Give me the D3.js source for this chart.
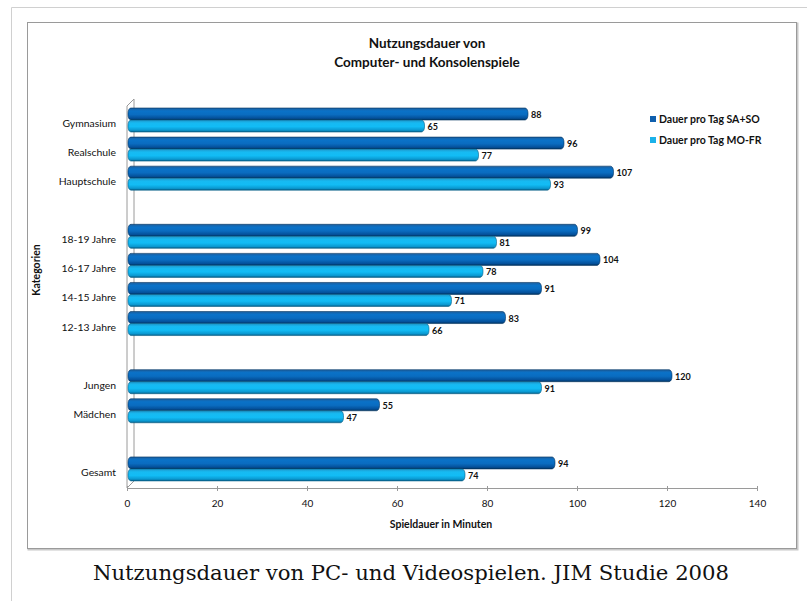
<!DOCTYPE html>
<html>
<head>
<meta charset="utf-8">
<script src="https://cdn.jsdelivr.net/npm/d3@7"></script>
<style>
  body { margin: 0; background: #fff; }
  svg { display: block; }
  text { font-family: Lato, "Open Sans", sans-serif; fill: #111; }
</style>
</head>
<body>
<div id="chart"></div>
<script>
const categories = ['Gymnasium', 'Realschule', 'Hauptschule', '', '18-19 Jahre', '16-17 Jahre',
  '14-15 Jahre', '12-13 Jahre', '', 'Jungen', 'Mädchen', '', 'Gesamt'];
const weekend = [88, 96, 107, null, 99, 104, 91, 83, null, 120, 55, null, 94];
const weekday = [65, 77, 93, null, 81, 78, 71, 66, null, 91, 47, null, 74];
const seriesNames = ['Dauer pro Tag SA+SO', 'Dauer pro Tag MO-FR'];
const xTicks = [0, 20, 40, 60, 80, 100, 120, 140];

const width = 807, height = 601;
const svg = d3.select('#chart').append('svg')
  .attr('width', width).attr('height', height);

const defs = svg.append('defs');
function cylinder(id, stops) {
  const g = defs.append('linearGradient').attr('id', id)
    .attr('x1', 0).attr('y1', 0).attr('x2', 0).attr('y2', 1);
  stops.forEach(s => g.append('stop').attr('offset', s[0]).attr('stop-color', s[1]));
}
cylinder('dark', [[0, '#1d5f9e'], [0.25, '#0a72c8'], [0.55, '#0a6cc0'], [0.85, '#04509a'], [1, '#02335f']]);
cylinder('light', [[0, '#1f95c8'], [0.25, '#17baf2'], [0.55, '#12bcf5'], [0.85, '#0a98d0'], [1, '#065f88']]);

// wiki frame
svg.append('path').attr('d', 'M11.5,601 V7.5 H807')
  .attr('fill', 'none').attr('stroke', '#d0d0d0');
// chart box
svg.append('rect').attr('x', 28.5).attr('y', 23.5).attr('width', 769).attr('height', 526)
  .attr('fill', 'none').attr('stroke', '#c8c8c8').attr('stroke-width', 2);
svg.append('rect').attr('x', 27.5).attr('y', 22.5).attr('width', 769).attr('height', 526)
  .attr('fill', '#fff').attr('stroke', '#9a9a9a');

// title
const title = svg.append('text').attr('text-anchor', 'middle')
  .style('font-size', '13.5px').style('font-weight', 'bold');
title.append('tspan').attr('x', 427).attr('y', 48).text('Nutzungsdauer von');
title.append('tspan').attr('x', 427).attr('y', 67).text('Computer- und Konsolenspiele');

const x = d3.scaleLinear().domain([0, 140]).range([127, 757]);
const y = d3.scaleBand().domain(d3.range(categories.length)).range([105, 483]);
const depth = 7;
const barH = 12;
const shift = 4; // 3D offset of the bar ends

// 3D walls
const wall = svg.append('g').attr('fill', 'none').attr('stroke', '#9a9a9a');
wall.append('path').attr('d',
  `M${x(0)},${y.range()[0] + 1} L${x(0) + depth},${y.range()[0] + 1 - depth} V${y.range()[1] - depth + 5}`);
wall.append('path').attr('d',
  `M${x(0)},${y.range()[0] + 1} V${y.range()[1] + 5} L${x(0) + depth},${y.range()[1] - depth + 5}`);

// axis
const axis = svg.append('g').attr('transform', `translate(0,${y.range()[1] + 5})`)
  .call(d3.axisBottom(x).tickValues(xTicks).tickSize(3).tickPadding(9));
axis.select('.domain').attr('stroke', '#9a9a9a');
axis.selectAll('.tick line').attr('stroke', '#9a9a9a').attr('y1', -2);
axis.selectAll('.tick text').style('font-size', '10px').style('font-family', 'Lato, sans-serif').attr('fill', '#111');

svg.append('text').attr('x', 441).attr('y', 528).attr('text-anchor', 'middle')
  .style('font-size', '10.5px').style('font-weight', 'bold').text('Spieldauer in Minuten');
svg.append('text').attr('transform', 'translate(40,270) rotate(-90)').attr('text-anchor', 'middle')
  .style('font-size', '10.5px').style('font-weight', 'bold').text('Kategorien');

// category labels
svg.append('g').selectAll('text').data(categories).join('text')
  .attr('x', 116).attr('y', (d, i) => y(i) + 22)
  .attr('text-anchor', 'end').style('font-size', '10.4px').text(d => d);

// bars
const rows = categories.map((c, i) => ({ i, vals: [weekend[i], weekday[i]] }))
  .filter(d => d.vals[0] != null);
const fills = ['url(#dark)', 'url(#light)'];
const edge = ['#02335f', '#065f88'];
const bars = svg.append('g');
rows.forEach(r => {
  r.vals.forEach((v, k) => {
    const top = y(r.i) + 3 + k * barH;
    bars.append('rect')
      .attr('x', x(0) + 1).attr('y', top)
      .attr('width', x(v) - x(0) + shift).attr('height', barH)
      .attr('rx', 3).attr('ry', 5)
      .attr('fill', fills[k]).attr('stroke', edge[k]).attr('stroke-width', 0.6);
    bars.append('text')
      .attr('x', x(v) + shift + 4).attr('y', top + barH / 2 + 4)
      .style('font-size', '9px').style('font-weight', 'bold').attr('fill', '#333')
      .text(v);
  });
});

// legend
const legendColors = ['#0f5fae', '#1bb2ea'];
const legend = svg.append('g').selectAll('g').data(seriesNames).join('g')
  .attr('transform', (d, i) => `translate(650,${119 + i * 21})`);
legend.append('rect').attr('width', 6).attr('height', 6).attr('y', -3)
  .attr('fill', (d, i) => legendColors[i]);
legend.append('text').attr('x', 9).attr('y', 4)
  .style('font-size', '10.5px').style('font-weight', 'bold').text(d => d);

// caption
svg.append('text').attr('x', 411).attr('y', 580).attr('text-anchor', 'middle')
  .style('font-family', '"DejaVu Serif", serif').style('font-size', '21.2px').attr('fill', '#222')
  .text('Nutzungsdauer von PC- und Videospielen. JIM Studie 2008');
</script>
</body>
</html>
